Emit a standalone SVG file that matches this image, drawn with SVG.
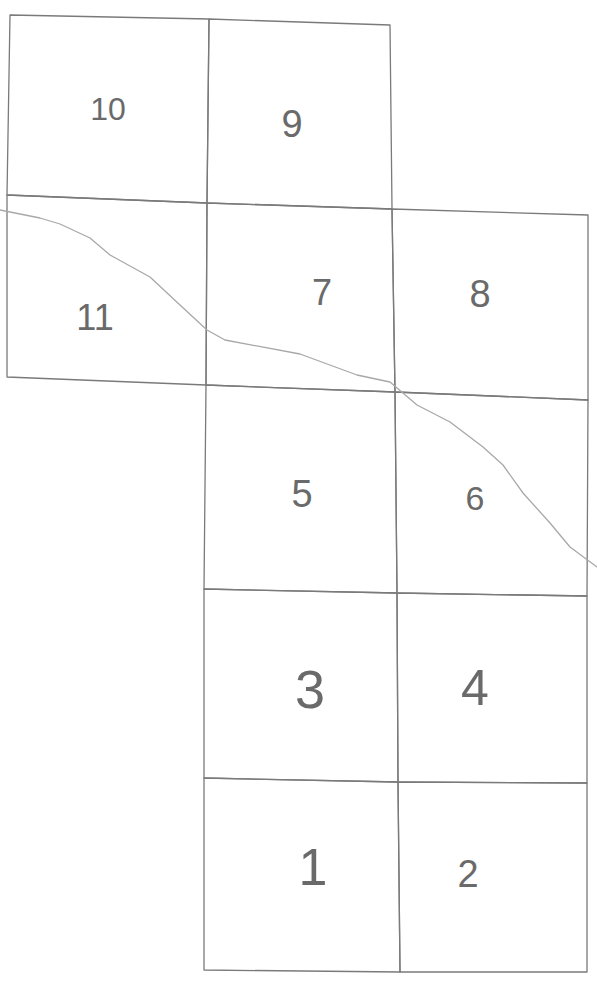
<svg xmlns="http://www.w3.org/2000/svg" width="597" height="982" viewBox="0 0 597 982">
<style>
.cell{fill:none;stroke:#7a7a7a;stroke-width:1.3;stroke-linejoin:round}
.lbl{font-family:"Liberation Sans","DejaVu Sans",sans-serif;fill:#6a6a6a;text-anchor:middle}
.curve{fill:none;stroke:#a8a8a8;stroke-width:1.3;stroke-linejoin:round;stroke-linecap:round}
</style>
<rect width="597" height="982" fill="#ffffff"/>
<g id="cell-10"><polygon class="cell" points="10,15 209,19 207,203 7,195"/><text class="lbl" x="108" y="120" font-size="32">10</text></g>
<g id="cell-9"><polygon class="cell" points="209,19 390,25 392,209 207,203"/><text class="lbl" x="292" y="137" font-size="38">9</text></g>
<g id="cell-11"><polygon class="cell" points="7,195 207,203 206,385 7,377"/><text class="lbl" x="95" y="330" font-size="36">11</text></g>
<g id="cell-7"><polygon class="cell" points="207,203 392,209 395,392 206,385"/><text class="lbl" x="322" y="305" font-size="36">7</text></g>
<g id="cell-8"><polygon class="cell" points="392,209 588,215 588,400 395,392"/><text class="lbl" x="480" y="307" font-size="38">8</text></g>
<g id="cell-5"><polygon class="cell" points="206,385 395,392 397,593 204,589"/><text class="lbl" x="302" y="507" font-size="38">5</text></g>
<g id="cell-6"><polygon class="cell" points="395,392 588,400 587,596 397,593"/><text class="lbl" x="475" y="510" font-size="34">6</text></g>
<g id="cell-3"><polygon class="cell" points="204,589 397,593 398,782 204,778"/><text class="lbl" x="310" y="708" font-size="54">3</text></g>
<g id="cell-4"><polygon class="cell" points="397,593 587,596 587,783 398,782"/><text class="lbl" x="475" y="705" font-size="50">4</text></g>
<g id="cell-1"><polygon class="cell" points="204,778 398,782 400,972 204,970"/><text class="lbl" x="313" y="885" font-size="52">1</text></g>
<g id="cell-2"><polygon class="cell" points="398,782 587,783 587,972 400,972"/><text class="lbl" x="468" y="887" font-size="38">2</text></g>
<g id="connectors">
<path class="curve" d="M0,210 L40,218 L60,224 L90,238 L110,255 L150,277 L180,305 L207,330 L225,340 L300,354 L357,375 L390,382 L417,405 L450,422 L483,447 L503,465 L523,493 L550,523 L570,547 L597,567"/>
</g>
</svg>
